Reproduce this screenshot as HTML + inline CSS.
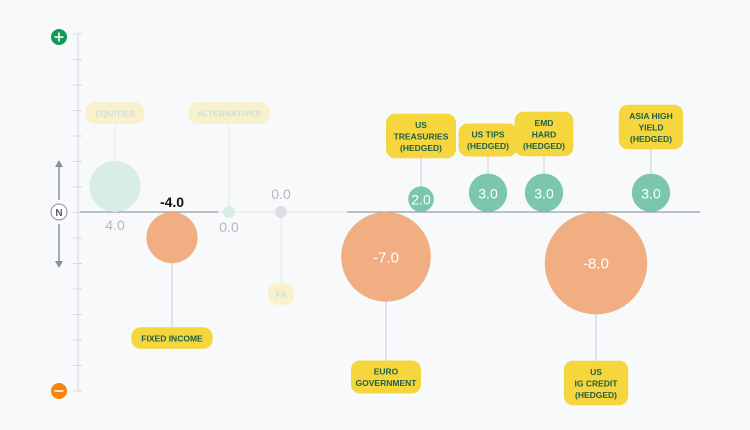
<!DOCTYPE html>
<html><head><meta charset="utf-8"><style>
html,body{margin:0;padding:0;background:#f8f9fb;}
svg{display:block;font-family:"Liberation Sans",sans-serif;}
</style></head><body>
<svg id="c" width="750" height="430" viewBox="0 0 750 430">
<rect width="750" height="430" fill="#f8f9fb"/>
</svg>
<script>
const categories = ["EQUITIES","FIXED INCOME","ALTERNATIVES","FX","EURO|GOVERNMENT","US|TREASURIES|(HEDGED)","US TIPS|(HEDGED)","EMD|HARD|(HEDGED)","US|IG CREDIT|(HEDGED)","ASIA HIGH|YIELD|(HEDGED)"];
const values = [4.0, -4.0, 0.0, 0.0, -7.0, 2.0, 3.0, 3.0, -8.0, 3.0];
const faded = [true, false, true, true, false, false, false, false, false, false];
const xPos = [115, 172, 229, 281, 386, 421, 488, 544, 596, 651];
const labelY = [113, 338, 113, 294, 377, 136, 140, 134, 383, 127];
const tickLabels = ["+", "N", "−"];

const svg = document.getElementById('c');
const NS = 'http://www.w3.org/2000/svg';
const zeroY = 212;
const rScale = v => Math.max(6, 6.4 * Math.abs(v));
function mk(tag, attrs, parent){ const e=document.createElementNS(NS,tag); for(const k in attrs) e.setAttribute(k,attrs[k]); (parent||svg).appendChild(e); return e; }

// axis
let g = mk('g',{});


mk('line',{x1:78,y1:34,x2:78,y2:391,stroke:'#dfe3ea','stroke-width':1.5},g);
for(let i=0;i<=14;i++){ const y=34+i*25.5; mk('line',{x1:73,y1:y,x2:82,y2:y,stroke:'#d5d9e0','stroke-width':1},g); }
// baseline
mk('line',{x1:80,y1:zeroY,x2:218,y2:zeroY,stroke:'#7d8590','stroke-width':1});
mk('line',{x1:218,y1:zeroY,x2:347,y2:zeroY,stroke:'#e1e4ea','stroke-width':1});
let bl = mk('line',{x1:347,y1:zeroY,x2:700,y2:zeroY,stroke:'#7d8590','stroke-width':1});


// plus/minus/N
let p = mk('g',{});


mk('circle',{cx:59,cy:37,r:8,fill:'#0f9a55'},p);
mk('path',{d:'M54.5 37h9M59 32.5v9',stroke:'#fff','stroke-width':1.6},p);
let m = mk('g',{});


mk('circle',{cx:59,cy:391,r:8,fill:'#f7860f'},m);
mk('path',{d:'M54.5 391h9',stroke:'#fff','stroke-width':1.6},m);
let n = mk('g',{});


mk('circle',{cx:59,cy:212,r:8,fill:'#fff',stroke:'#8a9099','stroke-width':1},n);
let nt = mk('text',{x:59,y:216,'text-anchor':'middle','font-size':10,'font-weight':'bold',fill:'#555b63'},n);
nt.textContent = tickLabels[1];
mk('path',{d:'M59 200V165',stroke:'#8a9099','stroke-width':1.5},n);
mk('path',{d:'M55 167l4-7l4 7z',fill:'#8a9099'},n);
mk('path',{d:'M59 224V262',stroke:'#8a9099','stroke-width':1.5},n);
mk('path',{d:'M55 261l4 7l4-7z',fill:'#8a9099'},n);

values.forEach((v,i)=>{
  const x = xPos[i];
  const r = rScale(v);
  const cy = v>0 ? zeroY - r : (v<0 ? zeroY + r : zeroY);
  const fade = faded[i];
  const grp = mk('g',{});
  
  
  const lines = categories[i].split('|');
  const lh = 11.5;
  const bh = lines.length*lh + 10;
  const maxLen = Math.max(...lines.map(s=>s.length));
  const bw = Math.max(26, maxLen*5.6 + 14);
  const ly = labelY[i];
  // connector
  const edge = v>0 ? cy - r : (v<0 ? cy + r : cy);
  const boxEdge = ly < zeroY ? ly + bh/2 : ly - bh/2;
  mk('line',{x1:x,y1:boxEdge,x2:x,y2:edge,stroke:fade?'#eceef2':'#d8dce3','stroke-width':1.5},grp);
  const fill = v>0 ? (fade?'#d9ede7':'#7cc6b0') : v<0 ? '#f0ae82' : (i===3?'#dcdee2':'#d9ede7');
  const c = mk('circle',{cx:x,cy:cy,r:r,fill:fill},grp);
  
  
  // label box
  const rect = mk('rect',{x:x-bw/2,y:ly-bh/2,width:bw,height:bh,rx:Math.min(9,bh/2),fill:fade?'#f8f1cc':'#f5d63d'},grp);
  
  
  lines.forEach((s,k)=>{
    const t = mk('text',{x:x,y:ly-bh/2+5+lh*(k+1)-2.5,'text-anchor':'middle','font-size':8.5,'font-weight':'bold',fill:fade?'#cddfdb':'#1f5e4b'},grp);
    t.textContent = s;
  });
  // value text
  const vs = v.toFixed(1);
  let t;
  if(fade || i===1){
    let ty, col='#b3b7bd', fw='normal';
    if(i===0) ty = 230; else if(i===2) ty=232; else if(i===3) ty=199; else { ty=207; col='#111'; fw='bold'; }
    t = mk('text',{x:x,y:ty,'text-anchor':'middle','font-size':14,'font-weight':fw,fill:col},grp);
  } else {
    t = mk('text',{x:x,y:cy+5.5,'text-anchor':'middle','font-size':r>30?15:14,fill:'#fff'},grp);
  }
  t.textContent = vs;
  
  
});
</script>
</body></html>
